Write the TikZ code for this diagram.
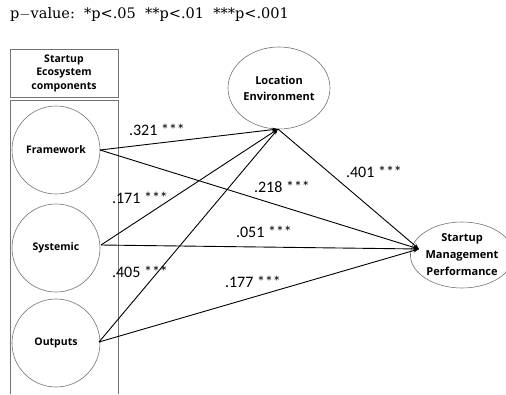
\documentclass[tikz,border=0pt]{standalone}
\usepackage{fontspec}
\setmainfont{DejaVu Serif}
\newfontfamily\lblfont{Carlito}
\newfontfamily\boldfont{Open Sans}
\usetikzlibrary{arrows.meta,shapes.geometric}
\begin{document}
\begin{tikzpicture}[x=1pt,y=-1pt,
  box/.style={draw=black!55,line width=0.6pt},
  comp/.style={circle,draw=black!55,line width=0.6pt,minimum size=88pt,inner sep=0pt,font=\boldfont\bfseries\fontsize{10.5}{13}\selectfont},
  ell/.style={ellipse,draw=black!55,line width=0.6pt,inner sep=0pt,align=center},
  path/.style={draw=black,line width=0.9pt,-{Stealth[length=6pt,width=4pt]}},
  coef/.style={font=\lblfont\fontsize{16}{18}\selectfont,inner sep=0pt}]
\useasboundingbox (0,0) rectangle (506,394);
\node[anchor=west,inner sep=0pt,font=\fontsize{14.5}{16}\selectfont] (pv) at (10,14) {p$-$value:\ \ *p<.05\ \ **p<.01\ \ ***p<.001};
% left box
\draw[box] (10,49) rectangle (118,97);
\draw[box] (10,394) -- (10,100) -- (118,100) -- (118,394);
\node[align=center,font=\boldfont\bfseries\fontsize{10.5}{13.5}\selectfont,inner sep=0pt] (hdr) at (64,73) {Startup\\Ecosystem\\components};
\node[comp] (fw) at (56,150) {Framework};
\node[comp] (sy) at (56,248) {Systemic};
\node[comp] (ou) at (56,343) {Outputs};
\node[ell,minimum width=102pt,minimum height=82pt,font=\boldfont\bfseries\fontsize{11}{16}\selectfont] (le) at (279,88) {Location\\Environment};
\node[ell,minimum width=88pt,minimum height=66pt,font=\boldfont\bfseries\fontsize{11}{17}\selectfont] (smp) at (462,255) {Startup\\Management\\Performance};
\coordinate (fwo) at (100,150);
\coordinate (syo) at (101,245);
\coordinate (ouo) at (99,342);
\coordinate (lei) at (278,129);
\coordinate (smpi) at (419,249);
\draw[path] (fwo) -- (lei);
\draw[path] (fwo) -- (smpi);
\draw[path] (syo) -- (lei);
\draw[path] (syo) -- (smpi);
\draw[path] (ouo) -- (lei);
\draw[path] (ouo) -- (smpi);
\draw[path] (lei) -- (smpi);
\node[coef] (c1) at (157,130) {.321 ***};
\node[coef] (c2) at (282,187) {.218 ***};
\node[coef] (c3) at (374,172) {.401 ***};
\node[coef] (c4) at (140,198) {.171 ***};
\node[coef] (c5) at (264,232) {.051 ***};
\node[coef] (c6) at (140,272) {.405 ***};
\node[coef] (c7) at (253,282) {.177 ***};
\end{tikzpicture}
\end{document}
